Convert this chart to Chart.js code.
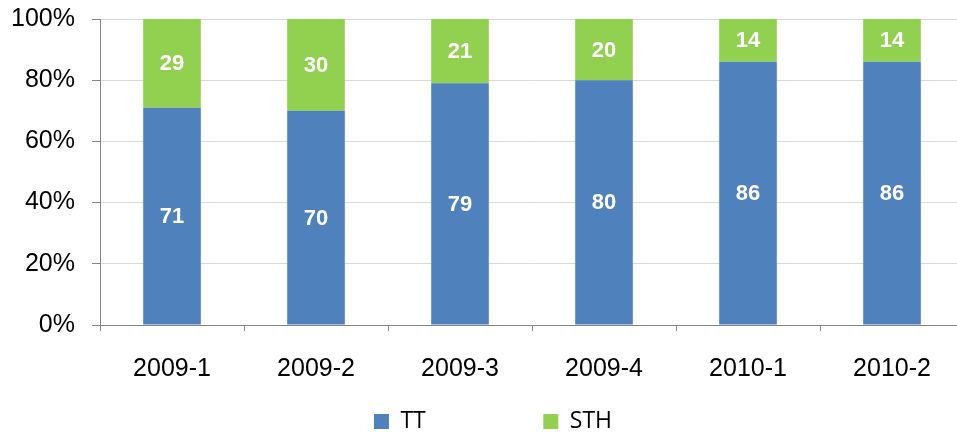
<!DOCTYPE html>
<html>
<head>
<meta charset="utf-8">
<script src="https://cdn.jsdelivr.net/npm/chart.js@4/dist/chart.umd.min.js"></script>
<style>
  html, body { margin: 0; padding: 0; background: #fff; overflow: hidden; }
  #wrap { width: 957px; height: 440px; overflow: hidden; }
  #box { width: 974px; height: 440px; }
</style>
</head>
<body>
<div id="wrap"><div id="box"><canvas id="shareChart"></canvas></div></div>
<script>
// Share of TT vs STH per half-year, in percent
const periods = ['2009-1', '2009-2', '2009-3', '2009-4', '2010-1', '2010-2'];
const ttValues = [71, 70, 79, 80, 86, 86];
const sthValues = [29, 30, 21, 20, 14, 14];
const yTicks = [0, 20, 40, 60, 80, 100];

const AXIS_FONT = '"Liberation Sans", Arial, sans-serif';

// white value labels in the middle of each segment
const segmentLabels = {
    id: 'segmentLabels',
    afterDatasetsDraw(chart) {
        const ctx = chart.ctx;
        ctx.save();
        ctx.fillStyle = '#ffffff';
        ctx.font = 'bold 22px ' + AXIS_FONT;
        ctx.textAlign = 'center';
        ctx.textBaseline = 'middle';
        chart.data.datasets.forEach((ds, i) => {
            const meta = chart.getDatasetMeta(i);
            meta.data.forEach((bar, j) => {
                const p = bar.getProps(['x', 'y', 'base'], true);
                ctx.fillText(ds.data[j], p.x, (p.y + p.base) / 2 + 1);
            });
        });
        ctx.restore();
    }
};

// the original legend sits a little right of centre
const legendNudge = {
    id: 'legendNudge',
    afterLayout(chart) {
        if (chart.legend) {
            chart.legend.left += 11;
            chart.legend.right += 11;
        }
    }
};

const ctx = document.getElementById('shareChart').getContext('2d');
new Chart(ctx, {
    type: 'bar',
    data: {
        labels: periods,
        datasets: [
            {
                label: 'TT',
                data: ttValues,
                backgroundColor: '#4F81BD',
                categoryPercentage: 1,
                barPercentage: 0.4
            },
            {
                label: 'STH',
                data: sthValues,
                backgroundColor: '#92D050',
                categoryPercentage: 1,
                barPercentage: 0.4
            }
        ]
    },
    options: {
        responsive: true,
        maintainAspectRatio: false,
        animation: false,
        layout: { padding: { top: 19, right: 10, bottom: -3, left: 0 } },
        plugins: {
            tooltip: { enabled: false },
            legend: {
                position: 'bottom',
                labels: {
                    color: '#000',
                    font: { family: '"Open Sans", sans-serif', size: 23 },
                    boxWidth: 15,
                    boxHeight: 15,
                    padding: 10,
                    generateLabels(chart) {
                        const items = Chart.defaults.plugins.legend.labels.generateLabels(chart);
                        // wide gap between the two entries, as in the original
                        items[0].text = items[0].text + ' '.repeat(18);
                        items.forEach(it => { it.lineWidth = 0; });
                        return items;
                    }
                }
            }
        },
        scales: {
            x: {
                stacked: true,
                grid: {
                    drawOnChartArea: false,
                    drawTicks: true,
                    tickLength: 6,
                    color: '#868686'
                },
                border: { color: '#868686' },
                ticks: {
                    color: '#000',
                    font: { family: AXIS_FONT, size: 25 },
                    padding: 23,
                    maxRotation: 0
                },
                afterFit(scale) { scale.height = 75; }
            },
            y: {
                stacked: true,
                min: 0,
                max: 100,
                afterBuildTicks(scale) {
                    scale.ticks = yTicks.map(v => ({ value: v }));
                },
                grid: {
                    color: '#d9d9d9',
                    tickColor: '#868686',
                    tickLength: 8
                },
                border: { color: '#868686' },
                ticks: {
                    color: '#000',
                    font: { family: AXIS_FONT, size: 25 },
                    padding: 17,
                    callback: v => v + '%'
                },
                afterFit(scale) {
                    scale.width = 100;
                    // let the top label hang into the layout padding
                    scale.paddingTop = 0;
                    scale.paddingBottom = 0;
                }
            }
        }
    },
    plugins: [segmentLabels, legendNudge]
});
</script>
</body>
</html>
